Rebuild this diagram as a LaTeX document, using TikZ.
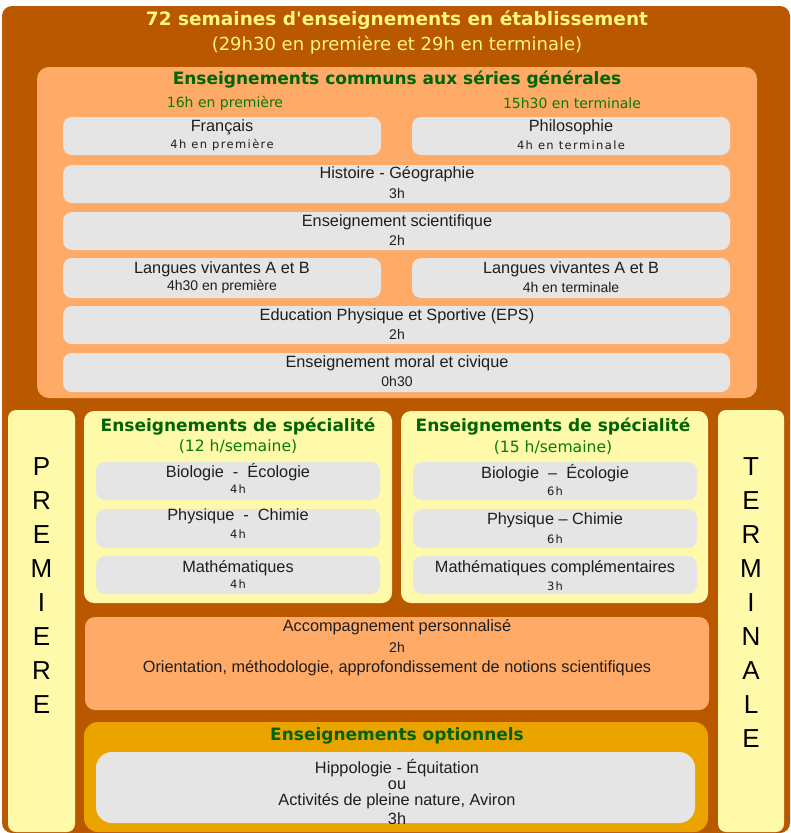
\documentclass[tikz,border=0pt]{standalone}
\usepackage{fontspec}
\setmainfont{Liberation Sans}
\newfontfamily\verdanafont{DejaVu Sans}
\newfontfamily\spacedfont[LetterSpace=12]{DejaVu Sans}
\definecolor{framebrown}{RGB}{186,88,0}
\definecolor{salmon}{RGB}{255,170,102}
\definecolor{boxgrey}{RGB}{229,229,229}
\definecolor{paleyellow}{RGB}{255,249,170}
\definecolor{optorange}{RGB}{235,163,0}
\definecolor{headyellow}{RGB}{255,246,128}
\definecolor{darkgreen}{RGB}{0,100,0}
\definecolor{midgreen}{RGB}{10,122,10}
\definecolor{inkgrey}{RGB}{30,30,30}

\begin{document}
\begin{tikzpicture}[x=1pt,y=1pt,
  maintitle/.style={text=headyellow,font={\verdanafont\bfseries\fontsize{18.5}{21}\selectfont}},
  subtitle/.style={text=headyellow,font={\verdanafont\fontsize{18}{21}\selectfont}},
  blocktitle/.style={text=darkgreen,font={\verdanafont\bfseries\fontsize{17}{20}\selectfont}},
  blocksub/.style={text=midgreen,font={\verdanafont\fontsize{14}{17}\selectfont}},
  subject/.style={text=inkgrey,font={\fontsize{16.3}{19}\selectfont}},
  hours/.style={text=inkgrey,font={\fontsize{14}{17}\selectfont}},
  spacedhours/.style={text=inkgrey,font={\spacedfont\fontsize{11.5}{13}\selectfont}},
  letters/.style={text=black,align=center,font={\fontsize{26}{34}\selectfont}},
  greybox/.style={fill=boxgrey,rounded corners=9pt}]
\fill[color=white] (0.000000, 0.000000) rectangle (791.000000, -833.000000);
% Drawing frames
\fill[color=framebrown,rounded corners=10pt] (2.000000, -6.000000) rectangle (790.000000, -833.000000);
\fill[color=salmon,rounded corners=12pt] (37.000000, -67.000000) rectangle (757.000000, -398.000000);
\fill[color=paleyellow,rounded corners=8pt] (8.000000, -410.000000) rectangle (75.000000, -832.000000);
\fill[color=paleyellow,rounded corners=8pt] (718.000000, -410.000000) rectangle (784.000000, -832.000000);
\fill[color=paleyellow,rounded corners=10pt] (84.000000, -411.000000) rectangle (392.000000, -603.000000);
\fill[color=paleyellow,rounded corners=10pt] (401.000000, -411.000000) rectangle (708.000000, -603.000000);
\fill[color=salmon,rounded corners=10pt] (85.000000, -617.000000) rectangle (709.000000, -710.000000);
\fill[color=optorange,rounded corners=14pt] (84.000000, -722.000000) rectangle (708.000000, -832.000000);
% Done with frames; drawing grey boxes
\fill[greybox] (63.000000, -117.000000) rectangle (381.000000, -155.000000);
\fill[greybox] (412.000000, -117.000000) rectangle (730.000000, -155.000000);
\fill[greybox] (63.000000, -165.000000) rectangle (730.000000, -203.000000);
\fill[greybox] (63.000000, -212.000000) rectangle (730.000000, -250.000000);
\fill[greybox] (63.000000, -258.000000) rectangle (381.000000, -298.000000);
\fill[greybox] (412.000000, -258.000000) rectangle (730.000000, -298.000000);
\fill[greybox] (63.000000, -306.000000) rectangle (730.000000, -344.000000);
\fill[greybox] (63.000000, -353.000000) rectangle (730.000000, -392.000000);
\fill[greybox] (96.000000, -462.000000) rectangle (380.000000, -500.000000);
\fill[greybox] (96.000000, -509.000000) rectangle (380.000000, -548.000000);
\fill[greybox] (96.000000, -556.000000) rectangle (380.000000, -594.000000);
\fill[greybox] (413.000000, -462.000000) rectangle (697.000000, -500.000000);
\fill[greybox] (413.000000, -509.000000) rectangle (697.000000, -548.000000);
\fill[greybox] (413.000000, -556.000000) rectangle (697.000000, -594.000000);
\fill[greybox,rounded corners=16pt] (96.000000, -752.000000) rectangle (695.000000, -823.000000);
% Done with grey boxes; drawing titles
\node[maintitle] (head) at (397.000000, -20.000000) {72 semaines d'enseignements en établissement};
\node[subtitle] (headsub) at (397.000000, -45.000000) {(29h30 en première et 29h en terminale)};
\node[blocktitle] (common) at (397.000000, -80.000000) {Enseignements communs aux séries générales};
\node[blocksub] (commonpre) at (225.000000, -103.000000) {16h en première};
\node[blocksub] (commonterm) at (572.000000, -103.000000) {15h30 en terminale};
\node[blocktitle] (specpre) at (238.000000, -427.000000) {Enseignements de spécialité};
\node[blocksub,font={\verdanafont\fontsize{15.6}{18}\selectfont}] (specpresub) at (238.000000, -447.000000) {(12 h/semaine)};
\node[blocktitle] (specterm) at (553.000000, -427.000000) {Enseignements de spécialité};
\node[blocksub,font={\verdanafont\fontsize{15.6}{18}\selectfont}] (spectermsub) at (553.000000, -448.000000) {(15 h/semaine)};
\node[blocktitle] (options) at (397.000000, -736.000000) {Enseignements optionnels};
% Done with titles; drawing common subjects
\node[subject] (french) at (222.000000, -127.000000) {Français};
\node[spacedhours] (frenchh) at (222.000000, -145.000000) {4h en première};
\node[subject] (philo) at (571.000000, -127.000000) {Philosophie};
\node[spacedhours] (philoh) at (571.000000, -145.000000) {4h en terminale};
\node[subject] (histgeo) at (397.000000, -174.000000) {Histoire - Géographie};
\node[hours] (histgeoh) at (397.000000, -193.000000) {3h};
\node[subject] (science) at (397.000000, -222.000000) {Enseignement scientifique};
\node[hours] (scienceh) at (397.000000, -240.000000) {2h};
\node[subject] (langpre) at (222.000000, -269.000000) {Langues vivantes A et B};
\node[hours] (langpreh) at (222.000000, -287.000000) {4h30 en première};
\node[subject] (langterm) at (571.000000, -269.000000) {Langues vivantes A et B};
\node[hours] (langtermh) at (571.000000, -287.000000) {4h en terminale};
\node[subject] (eps) at (397.000000, -316.000000) {Education Physique et Sportive (EPS)};
\node[hours] (epsh) at (397.000000, -334.000000) {2h};
\node[subject] (civic) at (397.000000, -363.000000) {Enseignement moral et civique};
\node[hours] (civich) at (397.000000, -381.000000) {0h30};
% Done with common subjects; drawing speciality subjects
\node[subject] (biopre) at (238.000000, -472.000000) {Biologie\ \ -\ \ Écologie};
\node[spacedhours] (biopreh) at (238.000000, -489.000000) {4h};
\node[subject] (phypre) at (238.000000, -516.000000) {Physique\ \ -\ \ Chimie};
\node[spacedhours] (phypreh) at (238.000000, -534.000000) {4h};
\node[subject] (mathpre) at (238.000000, -568.000000) {Mathématiques};
\node[spacedhours] (mathpreh) at (238.000000, -584.000000) {4h};
\node[subject] (bioterm) at (555.000000, -473.000000) {Biologie\ \ --\ \ Écologie};
\node[spacedhours] (biotermh) at (555.000000, -491.000000) {6h};
\node[subject] (phyterm) at (555.000000, -520.000000) {Physique -- Chimie};
\node[spacedhours] (phytermh) at (555.000000, -539.000000) {6h};
\node[subject] (mathterm) at (555.000000, -568.000000) {Mathématiques complémentaires};
\node[spacedhours] (mathtermh) at (555.000000, -586.000000) {3h};
% Done with speciality subjects; drawing support and options
\node[subject] (support) at (397.000000, -627.000000) {Accompagnement personnalisé};
\node[hours] (supporth) at (397.000000, -647.000000) {2h};
\node[subject] (supportaim) at (397.000000, -668.000000) {Orientation, méthodologie, approfondissement de notions scientifiques};
\node[subject] (horse) at (397.000000, -768.000000) {Hippologie - Équitation};
\node[subject] (or) at (397.000000, -785.000000) {ou};
\node[subject] (nature) at (397.000000, -801.000000) {Activités de pleine nature, Aviron};
\node[subject] (natureh) at (397.000000, -819.000000) {3h};
% Done with options; drawing year columns
\node[letters] (premiere) at (41.500000, -586.000000) {P\\R\\E\\M\\I\\E\\R\\E};
\node[letters] (terminale) at (751.000000, -603.000000) {T\\E\\R\\M\\I\\N\\A\\L\\E};
% Done with columns
\end{tikzpicture}
\end{document}
